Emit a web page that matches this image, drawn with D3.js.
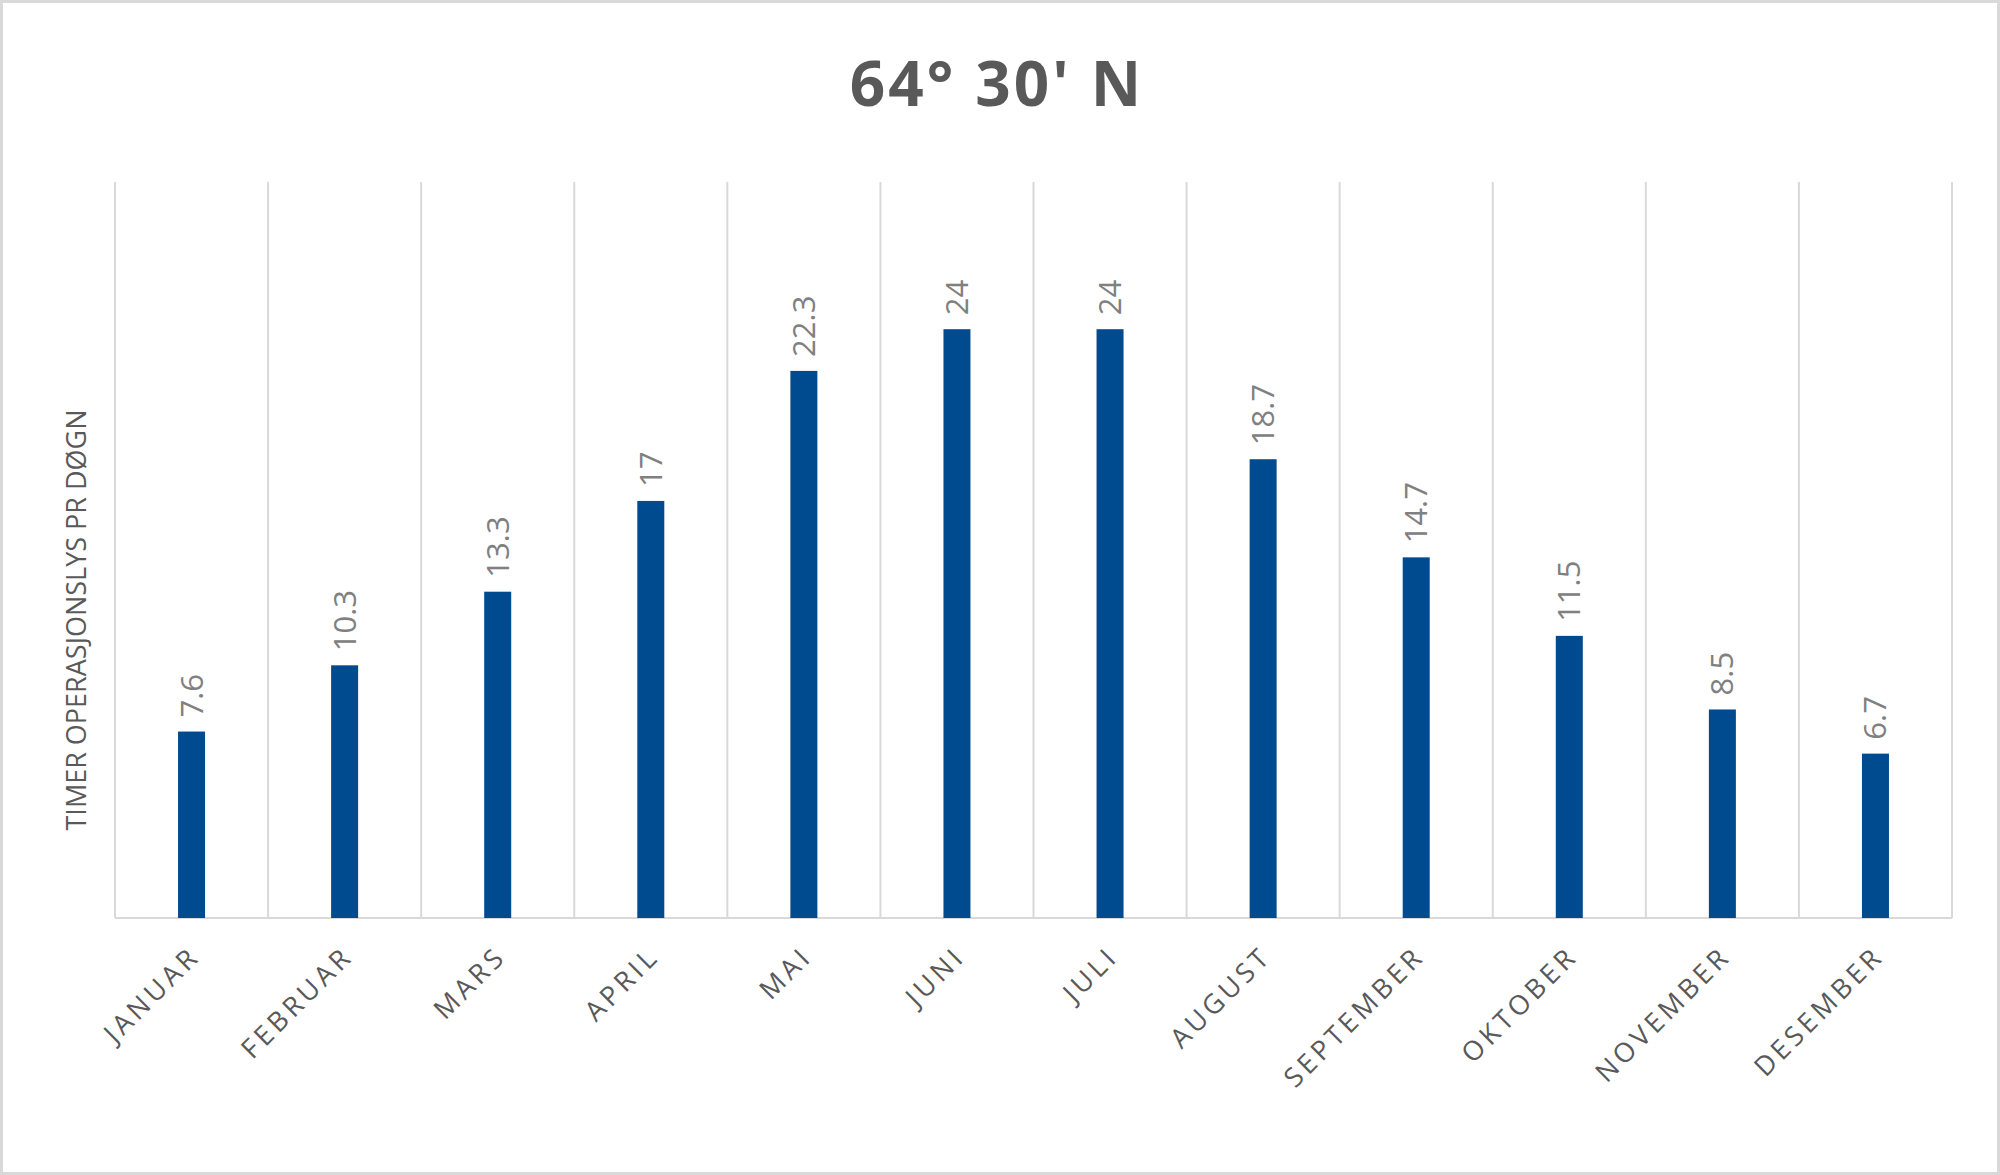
<!DOCTYPE html>
<html><head><meta charset="utf-8">
<script src="https://cdn.jsdelivr.net/npm/d3@7"></script>
<style>body{margin:0;background:#fff}text{font-family:"Open Sans",sans-serif}</style>
</head><body><svg width="2000" height="1175"></svg>
<script>
var months = ["JANUAR","FEBRUAR","MARS","APRIL","MAI","JUNI","JULI","AUGUST","SEPTEMBER","OKTOBER","NOVEMBER","DESEMBER"];
var hours = [7.6,10.3,13.3,17,22.3,24,24,18.7,14.7,11.5,8.5,6.7];
var labels = ["7.6","10.3","13.3","17","22.3","24","24","18.7","14.7","11.5","8.5","6.7"];

var svg = d3.select("svg");
var plotLeft = 115, plotRight = 1952, plotTop = 182, base = 918;

svg.append("rect").attr("x",1.5).attr("y",1.5).attr("width",1997).attr("height",1172)
    .attr("fill","#fff").attr("stroke","#d9d9d9").attr("stroke-width",3);

var x = d3.scaleBand().domain(months).range([plotLeft,plotRight]);
var y = d3.scaleLinear().domain([0,30]).range([base,plotTop]);

// vertical gridlines between categories
var edges = months.map(function(m){return x(m);}).concat([plotRight]);
svg.selectAll("line.grid").data(edges).enter().append("line")
    .attr("x1",function(d){return d;}).attr("x2",function(d){return d;})
    .attr("y1",plotTop).attr("y2",base).attr("stroke","#d9d9d9").attr("stroke-width",2);
svg.append("line").attr("x1",plotLeft).attr("x2",plotRight).attr("y1",base).attr("y2",base)
    .attr("stroke","#d9d9d9").attr("stroke-width",2);

var bw = 27;
svg.selectAll("rect.bar").data(hours).enter().append("rect")
    .attr("x",function(d,i){return x(months[i])+x.bandwidth()/2-bw/2;})
    .attr("y",function(d){return y(d);})
    .attr("width",bw).attr("height",function(d){return base-y(d);})
    .attr("fill","#004A8F");

svg.selectAll("text.val").data(hours).enter().append("text")
    .attr("transform",function(d,i){return "translate("+(x(months[i])+x.bandwidth()/2+11)+","+(y(d)-14)+") rotate(-90)";})
    .attr("font-size",31).attr("fill","#808080")
    .text(function(d,i){return labels[i];});

svg.selectAll("text.cat").data(months).enter().append("text")
    .attr("transform",function(d){return "translate("+(x(d)+x.bandwidth()/2+10)+","+(base+40)+") rotate(-45)";})
    .attr("text-anchor","end").attr("font-size",27).attr("letter-spacing",4).attr("fill","#595959")
    .text(function(d){return d;});

svg.append("text").attr("transform","translate(86,"+((plotTop+base)/2+70)+") rotate(-90)")
    .attr("text-anchor","middle").attr("font-size",27).attr("fill","#595959")
    .text("TIMER OPERASJONSLYS PR DØGN");

svg.append("text").attr("x",997).attr("y",106).attr("text-anchor","middle")
    .attr("font-size",62).attr("font-weight","bold").attr("fill","#595959").attr("letter-spacing",3)
    .text("64° 30' N");
</script></body></html>
